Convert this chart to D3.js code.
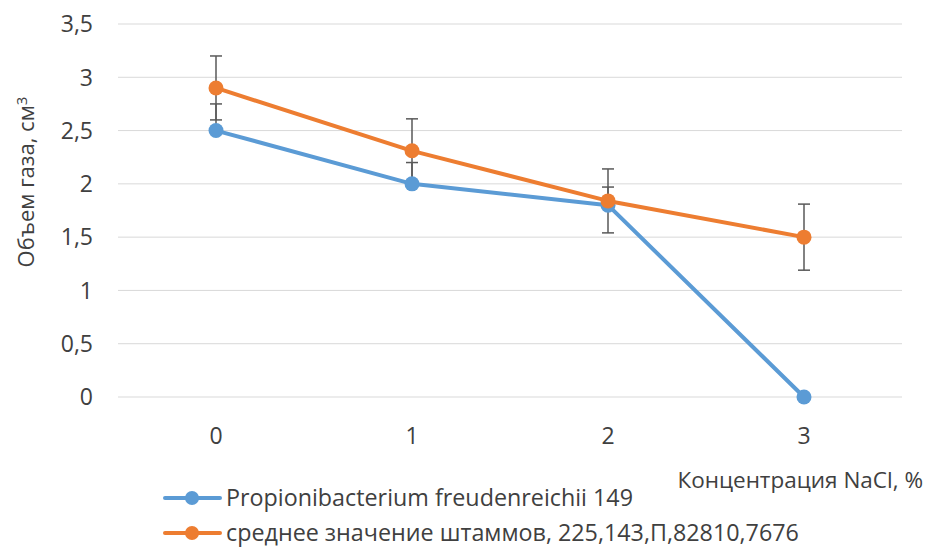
<!DOCTYPE html>
<html lang="ru">
<head>
<meta charset="UTF-8">
<title>Объем газа</title>
<script src="https://d3js.org/d3.v7.min.js"></script>
<style>
  body { margin: 0; background: #fff; }
  text { font-family: "Open Sans", sans-serif; fill: #404040; }
</style>
</head>
<body>
<div id="chart"></div>
<script>
  const w = 929, h = 549;

  // data
  const categories = ['0', '1', '2', '3'];
  const yTicks = [0, 0.5, 1, 1.5, 2, 2.5, 3, 3.5];
  const blueName = 'Propionibacterium freudenreichii 149';
  const blueValues = [2.5, 2.0, 1.8, 0];
  const blueErrPlus = [0.25, 0.2, 0.17, 0];
  const orangeName = 'среднее значение штаммов, 225,143,П,82810,7676';
  const orangeValues = [2.9, 2.31, 1.84, 1.5];
  const orangeErr = [0.3, 0.3, 0.3, 0.31];

  const svg = d3.select('#chart').append('svg')
    .attr('width', w)
    .attr('height', h);

  const x = d3.scaleBand().domain(categories).range([118, 902]);
  const y = d3.scaleLinear().domain([0, 3.5]).range([397, 24]);
  const cx = (i) => x(categories[i]) + x.bandwidth() / 2;

  // gridlines
  svg.append('g')
    .selectAll('line')
    .data(yTicks)
    .enter()
    .append('line')
    .attr('x1', 118).attr('x2', 902)
    .attr('y1', (d) => y(d)).attr('y2', (d) => y(d))
    .attr('stroke', '#d9d9d9')
    .attr('stroke-width', 1);

  // y tick labels
  svg.append('g')
    .selectAll('text')
    .data(yTicks)
    .enter()
    .append('text')
    .attr('x', 93)
    .attr('y', (d) => y(d))
    .attr('dy', '0.36em')
    .attr('text-anchor', 'end')
    .style('font-size', '23px')
    .text((d) => String(d).replace('.', ','));

  // x tick labels
  svg.append('g')
    .selectAll('text')
    .data(categories)
    .enter()
    .append('text')
    .attr('x', (d, i) => cx(i))
    .attr('y', 436)
    .attr('dy', '0.36em')
    .attr('text-anchor', 'middle')
    .style('font-size', '23px')
    .text((d) => d);

  // axis titles
  svg.append('text')
    .attr('x', 923)
    .attr('y', 480)
    .attr('dy', '0.36em')
    .attr('text-anchor', 'end')
    .style('font-size', '22.5px')
    .text('Концентрация NaCl, %');

  const yt = svg.append('text')
    .attr('transform', 'translate(26,182) rotate(-90)')
    .attr('dy', '0.36em')
    .attr('text-anchor', 'middle')
    .style('font-size', '22px');
  yt.append('tspan').text('Объем газа, см');
  yt.append('tspan').attr('dy', '-0.45em').style('font-size', '15px').text('3');

  // error bars
  const errG = svg.append('g')
    .attr('stroke', '#595959')
    .attr('stroke-width', 1.5);

  function errBar(xp, lo, hi, lowCap) {
    errG.append('line').attr('x1', xp).attr('x2', xp).attr('y1', y(lo)).attr('y2', y(hi));
    errG.append('line').attr('x1', xp - 6).attr('x2', xp + 6).attr('y1', y(hi)).attr('y2', y(hi));
    if (lowCap) {
      errG.append('line').attr('x1', xp - 6).attr('x2', xp + 6).attr('y1', y(lo)).attr('y2', y(lo));
    }
  }

  orangeValues.forEach((v, i) => errBar(cx(i), v - orangeErr[i], v + orangeErr[i], true));
  blueValues.forEach((v, i) => {
    if (blueErrPlus[i] > 0) errBar(cx(i), v, v + blueErrPlus[i], false);
  });

  const line = d3.line().x((d, i) => cx(i)).y((d) => y(d));

  function drawSeries(values, color) {
    svg.append('path')
      .datum(values)
      .attr('d', line)
      .attr('fill', 'none')
      .attr('stroke', color)
      .attr('stroke-width', 4)
      .attr('stroke-linejoin', 'round');

    svg.append('g')
      .selectAll('circle')
      .data(values)
      .enter()
      .append('circle')
      .attr('cx', (d, i) => cx(i))
      .attr('cy', (d) => y(d))
      .attr('r', 7.5)
      .attr('fill', color);
  }

  drawSeries(blueValues, '#5b9bd5');
  drawSeries(orangeValues, '#ed7d31');

  // legend
  const legend = [
    { name: blueName, color: '#5b9bd5', y: 498 },
    { name: orangeName, color: '#ed7d31', y: 533 }
  ];
  const lg = svg.append('g')
    .selectAll('g')
    .data(legend)
    .enter()
    .append('g');
  lg.append('line')
    .attr('x1', 165).attr('x2', 220)
    .attr('y1', (d) => d.y).attr('y2', (d) => d.y)
    .attr('stroke', (d) => d.color)
    .attr('stroke-width', 4)
    .attr('stroke-linecap', 'round');
  lg.append('circle')
    .attr('cx', 192).attr('cy', (d) => d.y)
    .attr('r', 7)
    .attr('fill', (d) => d.color);
  lg.append('text')
    .attr('x', 226)
    .attr('y', (d) => d.y)
    .attr('dy', '0.36em')
    .style('font-size', '23.3px')
    .text((d) => d.name);
</script>
</body>
</html>
